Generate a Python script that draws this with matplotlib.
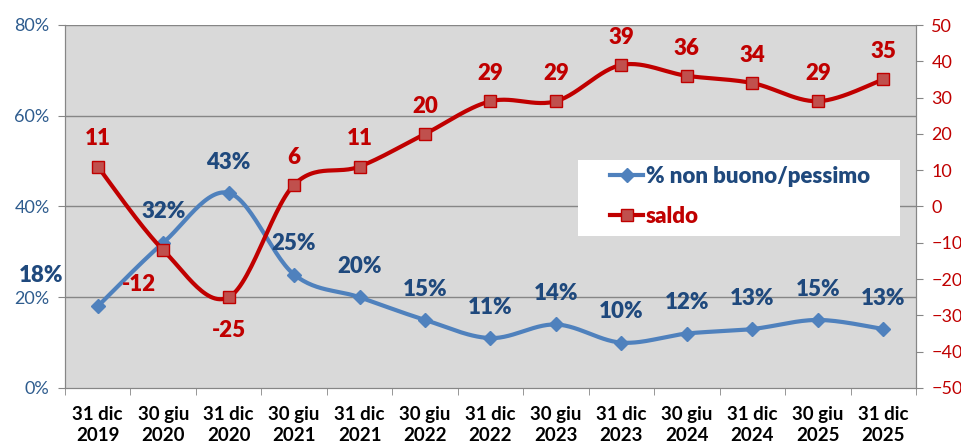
import numpy as np
import matplotlib
matplotlib.use("Agg")
import matplotlib.pyplot as plt
from matplotlib.ticker import FuncFormatter
from matplotlib.lines import Line2D
from matplotlib.patches import Rectangle

categories = ["31 dic\n2019", "30 giu\n2020", "31 dic\n2020", "30 giu\n2021", "31 dic\n2021",
              "30 giu\n2022", "31 dic\n2022", "30 giu\n2023", "31 dic\n2023", "30 giu\n2024",
              "31 dic\n2024", "30 giu\n2025", "31 dic\n2025"]
non_buono = [18, 32, 43, 25, 20, 15, 11, 14, 10, 12, 13, 15, 13]
saldo = [11, -12, -25, 6, 11, 20, 29, 29, 39, 36, 34, 29, 35]

plt.rcParams['font.family'] = ['Lato', 'DejaVu Sans']

BLUE_LINE = "#4F81BD"
BLUE_TXT = "#1F497D"
BLUE_TICK = "#2E5C8E"
RED_LINE = "#C00000"
RED_MARK = "#C0504D"
BG = "#D9D9D9"
GRID = "#868686"

def smooth(x, y, n=30):
    x = np.asarray(x, float); y = np.asarray(y, float)
    P = np.column_stack([x, y])
    P = np.vstack([P[0], P, P[-1]])
    out = []
    for i in range(1, len(P) - 2):
        p0, p1, p2, p3 = P[i-1], P[i], P[i+1], P[i+2]
        c1 = p1 + (p2 - p0) / 6
        c2 = p2 - (p3 - p1) / 6
        t = np.linspace(0, 1, n)[:, None]
        seg = (1-t)**3*p1 + 3*(1-t)**2*t*c1 + 3*(1-t)*t**2*c2 + t**3*p2
        out.append(seg if i == 1 else seg[1:])
    out = np.vstack(out)
    return out[:, 0], out[:, 1]

fig = plt.figure(figsize=(9.62, 4.43), dpi=100)
ax = fig.add_axes([65/962, 1-388/443, (916-65)/962, (388-25)/443])
ax.set_facecolor(BG)
ax2 = ax.twinx()

x = np.arange(len(categories))
ax.set_xlim(-0.5, len(categories) - 0.5)
ax.set_ylim(0, 80)
ax2.set_ylim(-50, 50)

for g in [20, 40, 60, 80]:
    ax.axhline(g, color=GRID, lw=1, zorder=1)

sx, sy = smooth(x, non_buono)
ax.plot(sx, sy, color=BLUE_LINE, lw=3, zorder=3, solid_capstyle='round')
ax.plot(x, non_buono, ls='none', marker='D', ms=7.5, color=BLUE_LINE, zorder=4)

rx, ry = smooth(x, saldo)
ax2.plot(rx, ry, color=RED_LINE, lw=3, zorder=3, solid_capstyle='round')
ax2.plot(x, saldo, ls='none', marker='s', ms=9, mfc=RED_MARK, mec=RED_LINE, mew=1, zorder=4)

LBL = 16
boff = {0: (-0.87, 6.8)}
for i, v in enumerate(non_buono):
    dx, dy = boff.get(i, (0, 6.8))
    ax.text(x[i] + dx, v + dy, f"{v}%", ha='center', va='center', color=BLUE_TXT,
            fontsize=LBL, fontweight='heavy', zorder=6)

roff = {1: (-0.37, -9.4), 2: (0, -9.1)}
for i, v in enumerate(saldo):
    dx, dy = roff.get(i, (0, 7.6))
    ax2.text(x[i] + dx, v + dy, f"{v}", ha='center', va='center', color=RED_LINE,
             fontsize=LBL, fontweight='heavy', zorder=6)

ax.set_xticks(x)
ax.set_xticklabels(categories, fontsize=13.5, fontweight='bold', color='black', linespacing=1.3)
ax.set_xticks(np.arange(-0.5, len(categories), 1), minor=True)
ax.tick_params(axis='x', which='major', length=0, pad=13)
ax.tick_params(axis='x', which='minor', length=5, color=GRID)

ax.set_yticks([0, 20, 40, 60, 80])
ax.yaxis.set_major_formatter(FuncFormatter(lambda v, p: f"{int(v)}%"))
ax.tick_params(axis='y', colors=GRID, labelcolor=BLUE_TICK, labelsize=13, length=5, pad=6)
ax2.set_yticks(np.arange(-50, 51, 10))
ax2.tick_params(axis='y', colors=GRID, labelcolor=RED_LINE, labelsize=13, length=5, pad=6)

for a in (ax, ax2):
    for s in a.spines.values():
        s.set_color(GRID)
    a.spines['top'].set_visible(False)
ax.set_zorder(1)
ax2.set_zorder(2)
ax2.patch.set_visible(False)

W = 916 - 65
H = 388 - 25
def axx(px): return (px - 65) / W
def axy(py): return (388 - py) / H

ax2.add_patch(Rectangle((axx(578), axy(236)), axx(900) - axx(578), axy(160) - axy(236),
                        transform=ax2.transAxes, facecolor='white', edgecolor='none', zorder=7))

handles = [Line2D([], [], color=BLUE_LINE, lw=3, marker='D', ms=7.5),
           Line2D([], [], color=RED_LINE, lw=3, marker='s', ms=9, mfc=RED_MARK, mec=RED_LINE)]
leg = ax2.legend(handles, ["% non buono/pessimo", "saldo"], loc='upper left',
                 bbox_to_anchor=(axx(610), axy(166)),
                 frameon=False,
                 prop={'weight': 'heavy', 'size': 16}, handlelength=1.5, handletextpad=0.1,
                 borderpad=0, labelspacing=0.85, borderaxespad=0)
leg.set_zorder(8)
leg.get_texts()[0].set_color(BLUE_TXT)
leg.get_texts()[1].set_color(RED_LINE)

fig.savefig("out.png", dpi=100)
